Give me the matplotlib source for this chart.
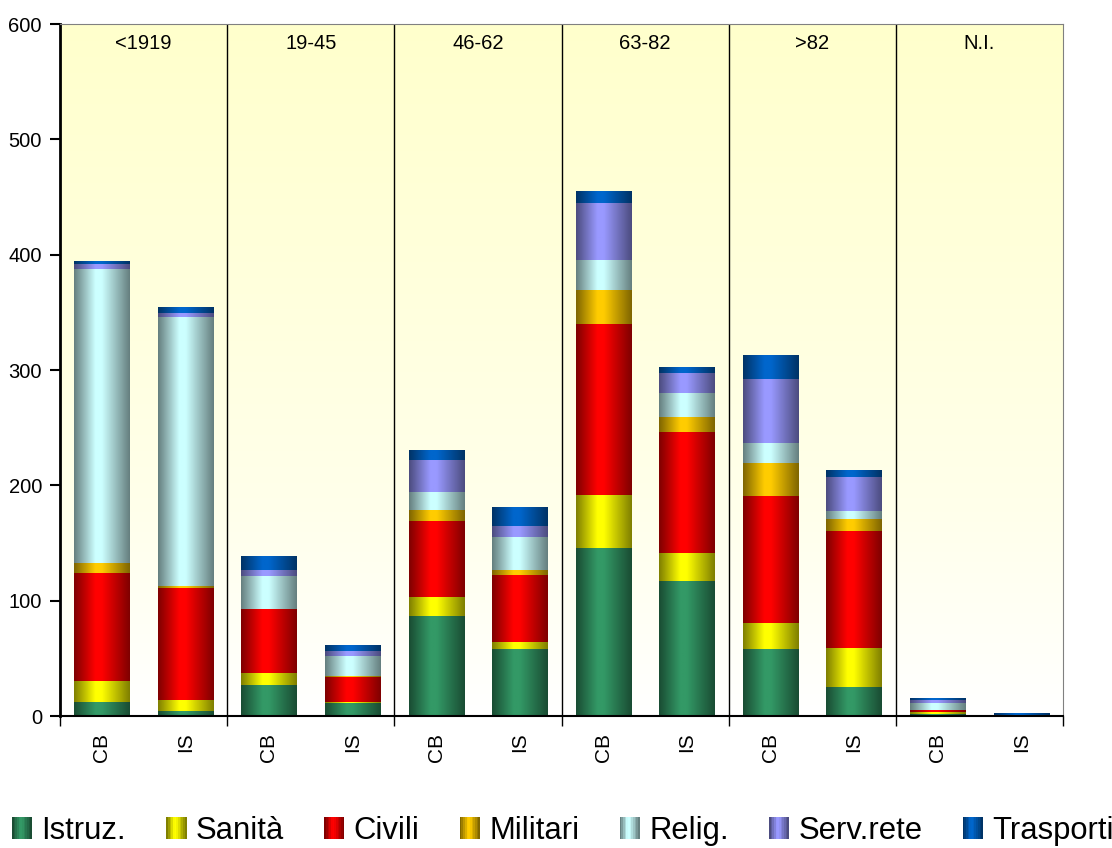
import matplotlib
matplotlib.use("Agg")
import matplotlib.pyplot as plt
import numpy as np
from matplotlib.colors import to_rgb
from matplotlib.patches import Rectangle
from matplotlib.legend_handler import HandlerBase

plt.rcParams['font.family'] = ['Liberation Sans', 'DejaVu Sans']

# data
groups = ["<1919", "19-45", "46-62", "63-82", ">82", "N.I."]
bar_labels = ["CB", "IS"] * 6
categories = ["Istruz.", "Sanità", "Civili", "Militari", "Relig.", "Serv.rete", "Trasporti"]

istruz    = [12, 4, 27, 11, 87, 58, 146, 117, 58, 25, 2, 0.3]
sanita    = [18, 10, 10, 1, 16, 6, 46, 24, 23, 34, 1.5, 0]
civili    = [94, 97, 56, 22, 66, 58, 148, 105, 110, 101, 1.5, 0]
militari  = [9, 2, 0, 1, 10, 5, 29, 13, 28, 11, 0.5, 0]
relig     = [255, 233, 28, 17, 15, 28, 26, 21, 18, 7, 6, 0]
serv_rete = [4, 3, 6, 4, 28, 10, 50, 17, 55, 29, 2, 0]
trasporti = [2, 5, 12, 5, 8, 16, 10, 5, 20, 6, 1.5, 2]

series = [istruz, sanita, civili, militari, relig, serv_rete, trasporti]
colors = ["#339966", "#FFFF00", "#FF0000", "#FFCC00", "#CCFFFF", "#9999FF", "#0066CC"]


def gradient_row(color, n=64):
    light = np.array(to_rgb(color))
    dark = light * 0.5
    t = np.linspace(0, 1, n)
    p = np.interp(t, [0, 0.38, 0.5, 1], [0, 1, 1, 0])
    return dark[None, :] + (light - dark)[None, :] * p[:, None]


class GradientHandler(HandlerBase):
    def create_artists(self, legend, orig_handle, xdescent, ydescent,
                       width, height, fontsize, trans):
        row = gradient_row(orig_handle.get_facecolor(), n=12)
        arts = []
        for i, c in enumerate(row):
            r = Rectangle((-xdescent + i * width / len(row), -ydescent),
                          width / len(row) * 1.05, height,
                          facecolor=c, edgecolor='none', transform=trans)
            arts.append(r)
        return arts


fig = plt.figure(figsize=(11.12, 8.48), dpi=100)
ax = fig.add_axes([60 / 1112, 1 - 716 / 848, 1003 / 1112, 692 / 848])

# background gradient, pale yellow to white
t = np.linspace(0, 1, 256)
blue = np.interp(t, [0, 0.3, 1], [1.0, 0.92, 0.8])
bg = np.ones((256, 2, 3))
bg[:, :, 2] = blue[:, None]
ax.imshow(bg, extent=(0, 1, 0, 1), transform=ax.transAxes, aspect='auto',
          origin='lower', zorder=0)

x = np.arange(len(bar_labels))
width = 0.66
bottom = np.zeros(len(x))
for vals, col in zip(series, colors):
    vals = np.array(vals, dtype=float)
    row = gradient_row(col)[None, :, :]
    for xi, b, v in zip(x, bottom, vals):
        if v <= 0:
            continue
        ax.imshow(row, extent=(xi - width / 2, xi + width / 2, b, b + v),
                  aspect='auto', interpolation='bilinear', zorder=2)
    bottom += vals

ax.set_xlim(-0.5, len(x) - 0.5)
ax.set_ylim(0, 600)

# group separators and labels
for k, g in enumerate(groups):
    ax.text(2 * k + 0.5, 583, g, ha='center', va='center', fontsize=14.5)
    if k > 0:
        ax.axvline(2 * k - 0.5, color='black', lw=1, zorder=1)

ax.set_xticks(np.arange(-0.5, len(x), 2))
ax.set_xticklabels([])
ax.tick_params(axis='x', which='major', length=7, width=1, direction='out')
ax.set_xticks(x, minor=True)
ax.set_xticklabels(bar_labels, minor=True, rotation=90, fontsize=15)
ax.tick_params(axis='x', which='minor', length=0, pad=12)

ax.set_yticks(np.arange(0, 601, 100))
ax.tick_params(axis='y', length=7, width=1.5, labelsize=14.5, pad=6)

ax.spines['left'].set_linewidth(2)
ax.spines['bottom'].set_linewidth(1.5)
ax.spines['top'].set_color('#808080')
ax.spines['right'].set_color('#808080')

handles = [Rectangle((0, 0), 1, 1, facecolor=c) for c in colors]
fig.legend(handles, categories, loc='center left',
           bbox_to_anchor=(12 / 1112, 17 / 848), ncol=7, frameon=False,
           fontsize=22.3, handlelength=0.65, handleheight=0.72,
           handletextpad=0.3, columnspacing=1.3, borderpad=0, borderaxespad=0,
           handler_map={Rectangle: GradientHandler()})

fig.savefig("out.png", dpi=100)
